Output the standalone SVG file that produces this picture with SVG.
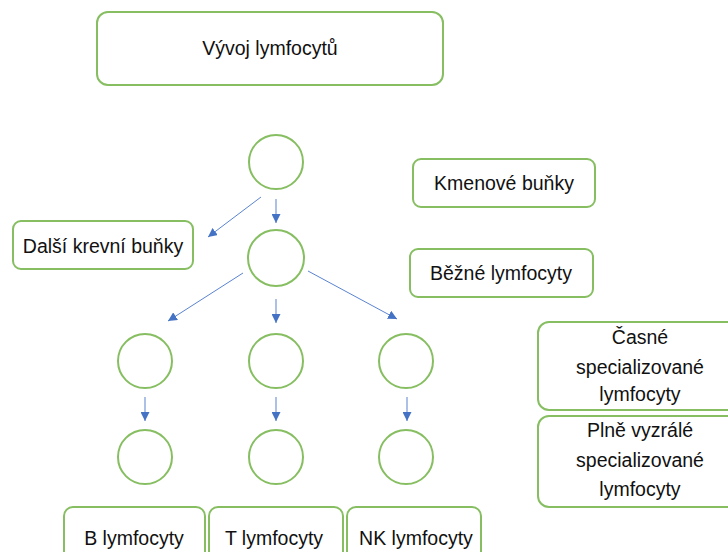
<svg xmlns="http://www.w3.org/2000/svg" width="728" height="552" viewBox="0 0 728 552">
<defs>
<marker id="ah" markerUnits="userSpaceOnUse" markerWidth="9" markerHeight="9" viewBox="0 0 10 10" refX="10" refY="5" orient="auto">
<path d="M0,0 L10,5 L0,10 Z" fill="#4472C4"/>
</marker>
<style>
.box{fill:#fff;stroke:#86BE61;stroke-width:2}
.c{fill:#fff;stroke:#86BE61;stroke-width:2}
.t{font-family:"Liberation Sans",Arial,sans-serif;font-size:19.5px;fill:#111;text-anchor:middle}
.a{stroke:#5A83D0;stroke-width:1;fill:none;marker-end:url(#ah)}
</style>
</defs>
<rect width="728" height="552" fill="#fff"/>
<g id="title"><rect class="box" x="97" y="12" width="346" height="73" rx="11"/><text class="t" x="270" y="55">Vývoj lymfocytů</text></g>
<g id="kmenove"><rect class="box" x="413" y="159" width="182" height="48" rx="8"/><text class="t" x="504" y="190">Kmenové buňky</text></g>
<g id="bezne"><rect class="box" x="410" y="249" width="183" height="48" rx="8"/><text class="t" x="501" y="280">Běžné lymfocyty</text></g>
<g id="dalsi"><rect class="box" x="13" y="221" width="180" height="48" rx="8"/><text class="t" x="103" y="253">Další krevní buňky</text></g>
<g id="casne"><rect class="box" x="538" y="322" width="204" height="88" rx="11"/><text class="t" x="640" y="344">Časné</text><text class="t" x="640" y="374">specializované</text><text class="t" x="640" y="401">lymfocyty</text></g>
<g id="plne"><rect class="box" x="538" y="416" width="204" height="91" rx="11"/><text class="t" x="640" y="437">Plně vyzrálé</text><text class="t" x="640" y="467">specializované</text><text class="t" x="640" y="496">lymfocyty</text></g>
<g id="b"><rect class="box" x="64" y="507" width="141" height="60" rx="9"/><text class="t" x="134" y="545">B lymfocyty</text></g>
<g id="tl"><rect class="box" x="209" y="507" width="134" height="60" rx="9"/><text class="t" x="274" y="545">T lymfocyty</text></g>
<g id="nk"><rect class="box" x="347" y="507" width="134" height="60" rx="9"/><text class="t" x="416" y="545">NK lymfocyty</text></g>
<g id="c0"><circle class="c" cx="276" cy="162" r="27"/></g>
<g id="c1"><circle class="c" cx="276" cy="258" r="28"/></g>
<g id="c2"><circle class="c" cx="145" cy="361" r="27"/></g>
<g id="c3"><circle class="c" cx="276" cy="361" r="27"/></g>
<g id="c4"><circle class="c" cx="406" cy="361" r="27"/></g>
<g id="c5"><circle class="c" cx="145" cy="457" r="27"/></g>
<g id="c6"><circle class="c" cx="276" cy="457" r="27"/></g>
<g id="c7"><circle class="c" cx="406" cy="457" r="27"/></g>
<g id="connectors">
<line class="a" x1="261" y1="197" x2="208" y2="237"/>
<line class="a" x1="276" y1="199" x2="276" y2="223"/>
<line class="a" x1="243" y1="273" x2="168" y2="321"/>
<line class="a" x1="276" y1="299" x2="276" y2="323"/>
<line class="a" x1="308" y1="271" x2="397" y2="319"/>
<line class="a" x1="145" y1="397" x2="145" y2="421"/>
<line class="a" x1="276" y1="397" x2="276" y2="421"/>
<line class="a" x1="407" y1="397" x2="407" y2="421"/>
</g>
</svg>
